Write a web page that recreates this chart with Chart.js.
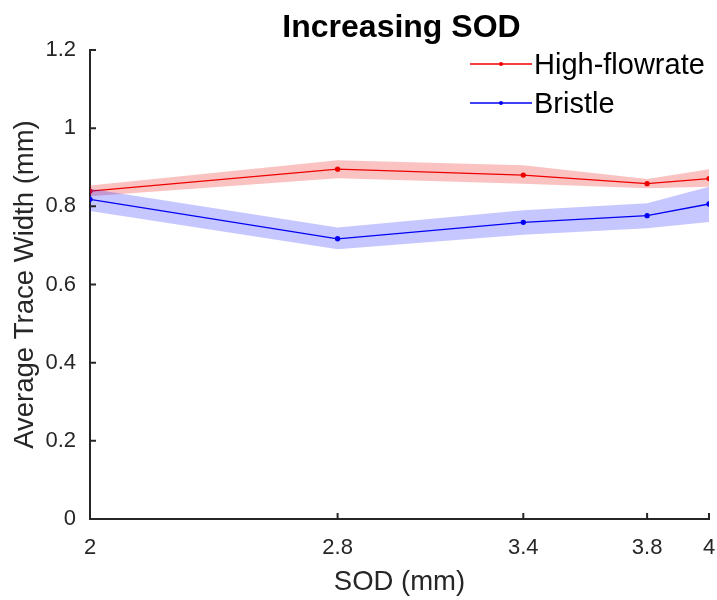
<!DOCTYPE html>
<html>
<head>
<meta charset="utf-8">
<title>Increasing SOD</title>
<script src="https://cdn.jsdelivr.net/npm/chart.js@4/dist/chart.umd.min.js"></script>
<style>
  html, body { margin: 0; padding: 0; background: #fff; }
  #wrap { width: 717px; height: 600px; }
</style>
</head>
<body>
<div id="wrap"><canvas id="chart" width="717" height="600"></canvas></div>
<script>
// SOD sweep: mean trace width with a shaded band per nozzle
const sod = [2, 2.8, 3.4, 3.8, 4];
const xTicks = [2, 2.8, 3.4, 3.8, 4];
const yTicks = [0, 0.2, 0.4, 0.6, 0.8, 1, 1.2];

const highFlow      = [0.839, 0.895, 0.880, 0.858, 0.871];
const highFlowUpper = [0.853, 0.918, 0.905, 0.870, 0.895];
const highFlowLower = [0.826, 0.872, 0.858, 0.846, 0.850];

const bristle      = [0.818, 0.717, 0.759, 0.776, 0.806];
const bristleUpper = [0.845, 0.746, 0.790, 0.808, 0.850];
const bristleLower = [0.788, 0.690, 0.727, 0.744, 0.760];

const FONT = "'Liberation Sans', Arial, Helvetica, sans-serif";
const AXIS = '#262626';
const RED = '#f00000';
const BLUE = '#0000f0';

const pts = arr => arr.map((v, i) => ({ x: sod[i], y: v }));

function band(data, fill, color) {
  return {
    data: pts(data), fill: fill, backgroundColor: color,
    borderWidth: 0, pointRadius: 0, isBand: true,
  };
}
function line(label, data, color) {
  return {
    label: label, data: pts(data), fill: false,
    borderColor: color, backgroundColor: color,
    borderWidth: 1.3, pointRadius: 2, pointHoverRadius: 2,
  };
}

// MATLAB-ish inward ticks, title and in-axes legend
const matlabBits = {
  id: 'matlabBits',
  afterDraw(chart) {
    const { ctx, chartArea: a, scales } = chart;
    ctx.save();
    ctx.strokeStyle = AXIS;
    ctx.lineWidth = 2;
    ctx.beginPath();
    xTicks.forEach(v => {
      const px = scales.x.getPixelForValue(v);
      ctx.moveTo(px, a.bottom); ctx.lineTo(px, a.bottom - 6);
    });
    yTicks.forEach(v => {
      const py = scales.y.getPixelForValue(v);
      ctx.moveTo(a.left, py); ctx.lineTo(a.left + 6, py);
    });
    ctx.stroke();

    // title
    ctx.fillStyle = '#000';
    ctx.font = `bold 32px ${FONT}`;
    ctx.textAlign = 'center';
    ctx.textBaseline = 'alphabetic';
    ctx.fillText('Increasing SOD', (a.left + a.right) / 2 + 2, 37);

    // legend
    const entries = chart.data.datasets.filter(d => !d.isBand);
    ctx.font = `29px ${FONT}`;
    ctx.textAlign = 'left';
    ctx.textBaseline = 'middle';
    entries.forEach((d, i) => {
      const y = a.top + 14 + i * 39;
      const x0 = a.right - 239, x1 = a.right - 177;
      ctx.strokeStyle = d.borderColor;
      ctx.lineWidth = 1.3;
      ctx.beginPath(); ctx.moveTo(x0, y); ctx.lineTo(x1, y); ctx.stroke();
      ctx.fillStyle = d.borderColor;
      ctx.beginPath(); ctx.arc((x0 + x1) / 2, y, 2, 0, Math.PI * 2); ctx.fill();
      ctx.fillStyle = '#000';
      ctx.fillText(d.label, x1 + 2, y + 2);
    });
    ctx.restore();
  }
};

new Chart(document.getElementById('chart'), {
  type: 'line',
  data: {
    datasets: [
      band(bristleUpper, '+1', 'rgba(0,0,255,0.22)'),
      band(bristleLower, false, 'rgba(0,0,255,0.22)'),
      band(highFlowUpper, '+1', 'rgba(240,0,0,0.24)'),
      band(highFlowLower, false, 'rgba(240,0,0,0.24)'),
      line('High-flowrate', highFlow, RED),
      line('Bristle', bristle, BLUE),
    ],
  },
  options: {
    responsive: false, animation: false, devicePixelRatio: 1,
    layout: { padding: { top: 50, right: 8, left: 0, bottom: 0 } },
    plugins: { legend: { display: false }, title: { display: false }, tooltip: { enabled: false } },
    scales: {
      x: {
        type: 'linear', min: 2, max: 4,
        afterBuildTicks: s => { s.ticks = xTicks.map(v => ({ value: v })); },
        afterFit: s => { s.height = 81; s.paddingLeft = 0; s.paddingRight = 0; },
        grid: { display: false, drawTicks: false },
        border: { display: true, color: AXIS, width: 2 },
        ticks: { color: '#262626', padding: 16, font: { family: FONT, size: 22 }, maxRotation: 0, callback: v => String(v) },
        title: { display: true, text: 'SOD (mm)', color: '#262626', padding: { top: 0, bottom: 1 }, font: { family: FONT, size: 27.5 } },
      },
      y: {
        min: 0, max: 1.2,
        afterBuildTicks: s => { s.ticks = yTicks.map(v => ({ value: v })); },
        afterFit: s => { s.width = 90; s.paddingTop = 0; s.paddingBottom = 0; },
        grid: { display: false, drawTicks: false },
        border: { display: true, color: AXIS, width: 2 },
        ticks: { color: '#262626', padding: 14, font: { family: FONT, size: 22 }, callback: v => String(v) },
        title: { display: true, text: 'Average Trace Width (mm)', color: '#262626', padding: { top: 9, bottom: 0 }, font: { family: FONT, size: 27.5 } },
      },
    },
  },
  plugins: [matlabBits],
});
</script>
</body>
</html>
